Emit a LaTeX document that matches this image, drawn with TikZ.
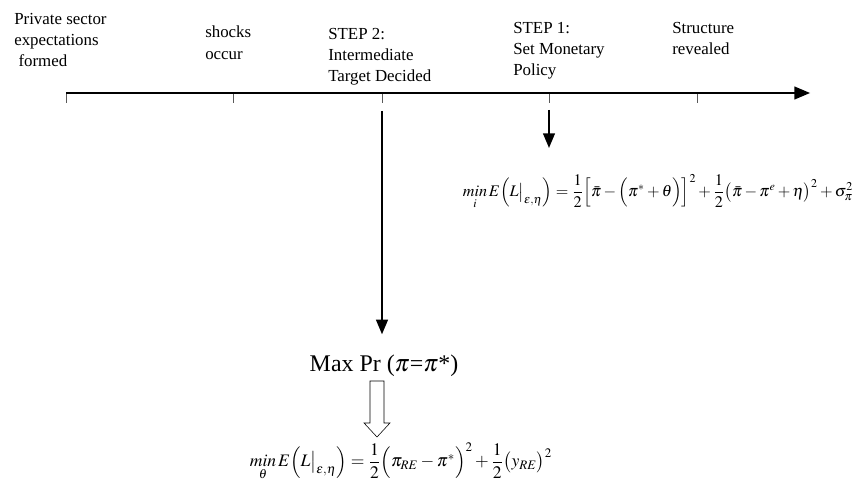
\documentclass[tikz,border=0pt]{standalone}
\usepackage{amsmath}
\usepackage{mathptmx}
\usepackage{fontspec}
\setmainfont{Liberation Serif}
\usepackage{tikz}
\usetikzlibrary{arrows,positioning}

\begin{document}
\begin{tikzpicture}[x=0.025cm,y=-0.025cm,
    event/.style={anchor=north west,align=left,inner sep=0pt,font=\fontsize{12}{15}\selectfont},
    tick/.style={gray!70!black,line width=0.6pt},
    pointer/.style={line width=1.4pt,->,>=triangle 45},
    formula/.style={font=\fontsize{11.5}{13}\selectfont}]
    \useasboundingbox (0,0) rectangle (858,486);

    % time line
    \coordinate (t_0) at (66,93);
    \coordinate (t_end) at (810,93);
    \foreach \name/\x in {k_0/66,k_1/233,k_2/382,k_3/549,k_4/697}{
        \coordinate (\name) at (\x,93);
        \draw[tick] (\name) -- ++(0,10);
    }
    \draw[line width=1.6pt,->,>=triangle 45] (t_0) -- (t_end);

    \node[event] (priv) at (14,13) {Private sector\\expectations\\\hspace{0.25em}formed};
    \node[event] (shock) at (205,26) {shocks\\occur};
    \node[event] (step2) at (328,28) {STEP 2:\\Intermediate\\Target Decided};
    \node[event] (step1) at (513,22) {STEP 1:\\Set Monetary\\Policy};
    \node[event] (struct) at (672,22) {Structure\\revealed};

    % step 1
    \coordinate (s1) at (549,110);
    \node[formula] (eq1) at (658,192)
        {$\mathop{\mathit{min}}\limits_{i} E\Bigl(L\big|_{\varepsilon,\eta}\Bigr)=\dfrac{1}{2}\Bigl[\bar{\pi}-\Bigl(\pi^{*}+\theta\Bigr)\Bigr]^{2}+\dfrac{1}{2}\bigl(\bar{\pi}-\pi^{e}+\eta\bigr)^{2}+\sigma_{\pi}^{2}$};
    \draw[pointer] (s1) -- ([yshift=0.55cm]s1 |- eq1.north);

    % step 2
    \coordinate (s2) at (382,111);
    \node[font=\fontsize{17}{20}\selectfont] (maxpr) at (384,366) {Max Pr ($\pi$=$\pi$*)};
    \draw[pointer] (s2) -- ([yshift=0.4cm]s2 |- maxpr.north);
    \coordinate (h) at (377,381);
    \draw[thin] (h) ++(-7,0) -- ++(0,42) -- ++(-6,0) -- ++(13,14) -- ++(13,-14) -- ++(-6,0) -- ++(0,-42) -- cycle;
    \node[formula,font=\fontsize{12.5}{14}\selectfont] (eq2) at (401,462)
        {$\mathop{\mathit{min}}\limits_{\theta} E\Bigl(L\big|_{\varepsilon,\eta}\Bigr)=\dfrac{1}{2}\Bigl(\pi_{RE}-\pi^{*}\Bigr)^{2}+\dfrac{1}{2}\bigl(y_{RE}\bigr)^{2}$};

\end{tikzpicture}
\end{document}
